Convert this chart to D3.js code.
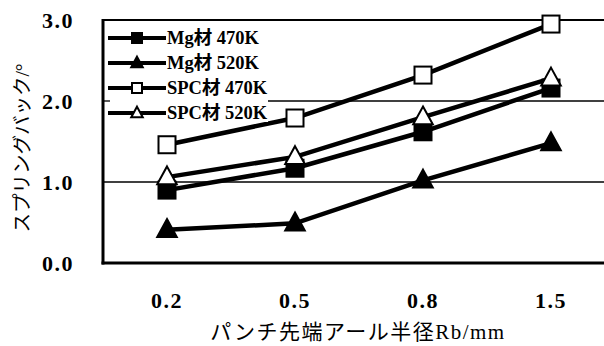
<!DOCTYPE html>
<html>
<head>
<meta charset="utf-8">
<script src="https://cdn.jsdelivr.net/npm/d3@7"></script>
<style>
  html, body { margin: 0; padding: 0; background: #fff; }
  svg { display: block; }
  text { font-family: "Liberation Serif", "Times New Roman", "Noto Sans CJK JP", serif; fill: #000; }
</style>
</head>
<body>
<svg id="chart" width="604" height="346"></svg>
<script>
// Punch tip radius categories (mm)
const categories = ["0.2", "0.5", "0.8", "1.5"];
// Springback angle (deg) per material / temperature
const mg470 = [0.90, 1.17, 1.62, 2.16];
const mg520 = [0.41, 0.49, 1.02, 1.48];
const spc470 = [1.46, 1.79, 2.32, 2.95];
const spc520 = [1.06, 1.31, 1.80, 2.28];
const yTicks = [0, 1, 2, 3];
const seriesNames = ["Mg材 470K", "Mg材 520K", "SPC材 470K", "SPC材 520K"];

const series = [
  { name: seriesNames[0], values: mg470, shape: "square", filled: true },
  { name: seriesNames[1], values: mg520, shape: "triangle", filled: true },
  { name: seriesNames[2], values: spc470, shape: "square", filled: false },
  { name: seriesNames[3], values: spc520, shape: "triangle", filled: false }
];

const svg = d3.select("#chart");
const plotLeft = 103, plotRight = 615, plotTop = 20, plotBottom = 263;

const x = d3.scalePoint().domain(categories).range([plotLeft, plotRight]).padding(0.5);
const y = d3.scaleLinear().domain([0, 3]).range([plotBottom, plotTop]);

// horizontal gridlines
svg.append("g").selectAll("line")
  .data(yTicks.filter(d => d > 0))
  .join("line")
  .attr("x1", plotLeft).attr("x2", 604)
  .attr("y1", d => y(d)).attr("y2", d => y(d))
  .attr("stroke", "#000").attr("stroke-width", d => d === 3 ? 2 : 1.3);

// y axis labels
svg.append("g").selectAll("text")
  .data(yTicks)
  .join("text")
  .attr("x", 74).attr("y", d => y(d))
  .attr("dy", "0.35em")
  .attr("text-anchor", "end")
  .attr("font-size", 22).attr("font-weight", "bold")
  .attr("letter-spacing", 1.5)
  .text(d => d.toFixed(1));

// x axis labels
svg.append("g").selectAll("text")
  .data(categories)
  .join("text")
  .attr("x", d => x(d)).attr("y", 300)
  .attr("dy", "0.35em")
  .attr("text-anchor", "middle")
  .attr("font-size", 22).attr("font-weight", "bold")
  .attr("letter-spacing", 1.5)
  .text(d => d);

// axis titles
svg.append("text")
  .attr("x", 358).attr("y", 332)
  .attr("dy", "0.35em")
  .attr("text-anchor", "middle")
  .attr("font-size", 21)
  .attr("letter-spacing", 1.5)
  .text("パンチ先端アール半径Rb/mm");

svg.append("text")
  .attr("transform", "translate(22,148) rotate(-90)")
  .attr("dy", "0.35em")
  .attr("text-anchor", "middle")
  .attr("font-size", 19.5)
  .text("スプリングバック/°");

function drawMarker(g, shape, filled, cx, cy, s) {
  if (shape === "square") {
    g.append("rect")
      .attr("x", cx - s / 2).attr("y", cy - s / 2)
      .attr("width", s).attr("height", s)
      .attr("fill", filled ? "#000" : "#fff")
      .attr("stroke", "#000").attr("stroke-width", 2);
  } else {
    const w = s * 1.15, h = s * 1.05;
    g.append("path")
      .attr("d", `M${cx},${cy - h * 0.6}L${cx + w / 2},${cy + h * 0.4}L${cx - w / 2},${cy + h * 0.4}Z`)
      .attr("fill", filled ? "#000" : "#fff")
      .attr("stroke", "#000").attr("stroke-width", 2).attr("stroke-linejoin", "miter");
  }
}

// series lines and markers
const line = d3.line().x((d, i) => x(categories[i])).y(d => y(d));
series.forEach(s => {
  const g = svg.append("g");
  g.append("path")
    .attr("d", line(s.values))
    .attr("fill", "none").attr("stroke", "#000").attr("stroke-width", 4.5);
  s.values.forEach((v, i) => drawMarker(g, s.shape, s.filled, x(categories[i]), y(v), 17));
});

// legend
const lg = svg.append("g");
lg.append("rect")
  .attr("x", plotLeft + 1).attr("y", plotTop + 1)
  .attr("width", 164).attr("height", 101)
  .attr("fill", "#fff");
series.forEach((s, i) => {
  const ly = 38 + i * 25;
  lg.append("line")
    .attr("x1", 108).attr("x2", 166).attr("y1", ly).attr("y2", ly)
    .attr("stroke", "#000").attr("stroke-width", 4);
  drawMarker(lg, s.shape, s.filled, 137, ly, 10);
  lg.append("text")
    .attr("x", 167).attr("y", ly)
    .attr("dy", "0.35em")
    .attr("font-size", 18.5).attr("font-weight", "bold")
    .text(s.name);
});

// axes frame
svg.append("line")
  .attr("x1", plotLeft).attr("x2", plotLeft).attr("y1", plotTop - 1).attr("y2", plotBottom + 1.5)
  .attr("stroke", "#000").attr("stroke-width", 3);
svg.append("line")
  .attr("x1", plotLeft - 1.5).attr("x2", 604).attr("y1", plotBottom).attr("y2", plotBottom)
  .attr("stroke", "#000").attr("stroke-width", 3);
svg.append("line")
  .attr("x1", plotLeft).attr("x2", 110).attr("y1", y(2)).attr("y2", y(2))
  .attr("stroke", "#000").attr("stroke-width", 1.3);
</script>
</body>
</html>
